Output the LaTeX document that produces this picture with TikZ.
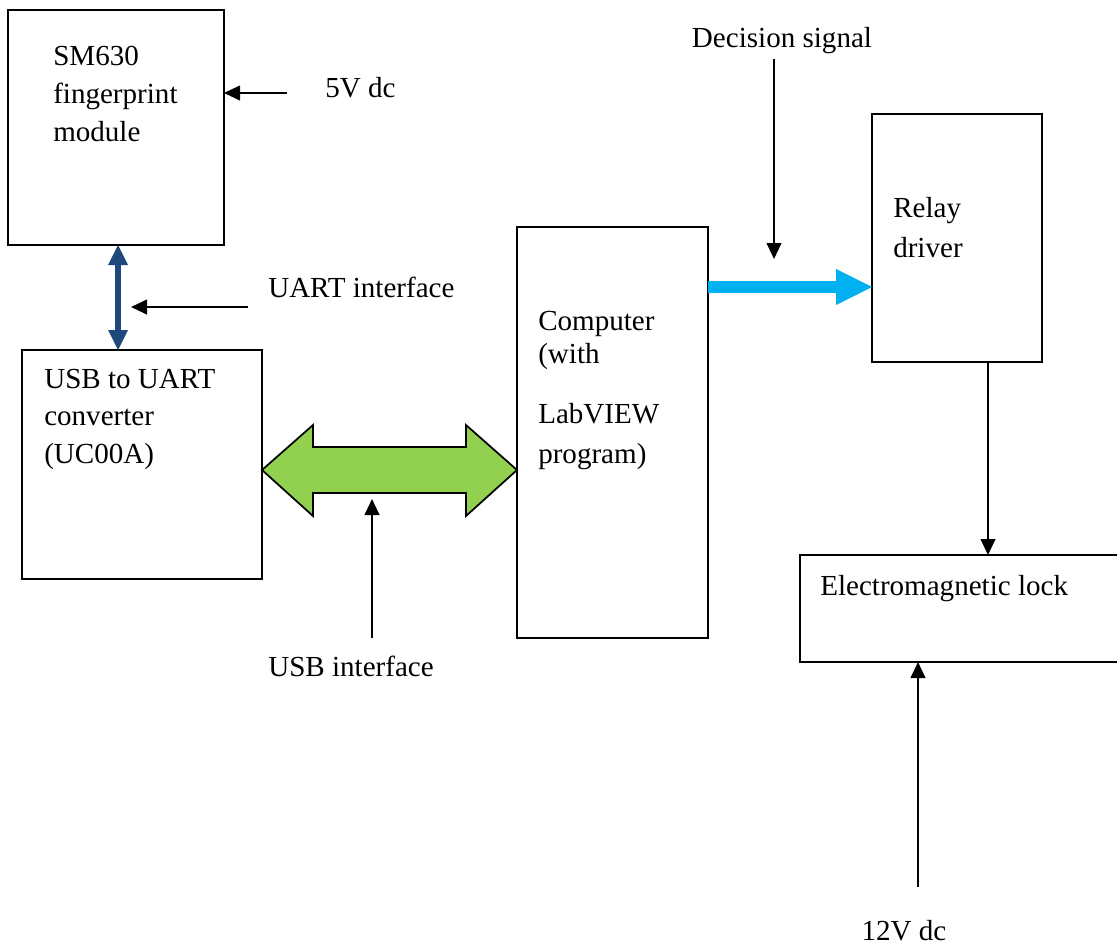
\documentclass[tikz,border=0pt]{standalone}
\usepackage{fontspec}
\setmainfont{Liberation Serif}
\usetikzlibrary{arrows.meta,fit}
\definecolor{darkblue}{RGB}{31,73,125}
\definecolor{lightgreen}{RGB}{146,208,80}
\definecolor{cyanblue}{RGB}{0,176,240}
\begin{document}
\begin{tikzpicture}[x=0.75pt,y=-0.75pt,
  box/.style={draw,line width=1.3pt,inner sep=0pt,outer sep=0pt,rectangle},
  lbl/.style={anchor=base west,inner sep=0pt,font=\fontsize{21.8}{26}\selectfont},
  clbl/.style={anchor=base,inner sep=0pt,font=\fontsize{21.8}{26}\selectfont},
  arr/.style={line width=1.5pt,-{Triangle[length=12pt,width=11pt]}}]
\useasboundingbox[fill=white] (0,0) rectangle (1117,945);

% boxes
\node[box,fit={(8,10) (224,245)}] (sm) {};
\node[box,fit={(22,350) (262,579)}] (usb) {};
\node[box,fit={(517,227) (708,638)}] (cmp) {};
\node[box,fit={(872,114) (1042,362)}] (rly) {};
\node[box,fit={(800,555) (1125,662)}] (lock) {};

% texts
\node[lbl] (t1) at (53,66) {SM630};
\node[lbl] (t2) at (53,104) {fingerprint};
\node[lbl] (t3) at (53,142) {module};
\node[lbl] (t4) at (325,98) {5V dc};
\node[lbl] (t5) at (268,297) {UART interface};
\node[lbl] (t6) at (44,388) {USB to UART};
\node[lbl] (t7) at (44,425) {converter};
\node[lbl] (t8) at (44,463) {(UC00A)};
\node[lbl] (t9) at (538,330) {Computer};
\node[lbl] (t10) at (538,363) {(with};
\node[lbl] (t11) at (538,423) {LabVIEW};
\node[lbl] (t12) at (538,463) {program)};
\node[lbl] (t13) at (893,218) {Relay};
\node[lbl] (t14) at (893,257) {driver};
\node[lbl] (t15) at (820,595) {Electromagnetic lock};
\node[clbl] (t16) at (782,48) {Decision signal};
\node[clbl] (t17) at (351,676) {USB interface};
\node[clbl] (t18) at (904,940) {12V dc};

% free ends
\coordinate (p5v) at (287,93);
\coordinate (puart) at (248,307);
\coordinate (puartend) at (131,307);
\coordinate (pusb) at (372,638);
\coordinate (pusbend) at (372,499);
\coordinate (pdec) at (774,59);
\coordinate (pdecend) at (774,259);
\coordinate (p12) at (918,887);

% black arrows
\draw[arr] (p5v) -- (p5v -| sm.east);
\draw[arr] (puart) -- (puartend);
\draw[arr] (pusb) -- (pusbend);
\draw[arr] (pdec) -- (pdecend);
\draw[arr] (rly.south -| 988,0) -- (lock.north -| 988,0);
\draw[arr] (p12) -- (p12 |- lock.south);

% blue double arrow
\draw[darkblue,line width=5pt,
  {Triangle[line width=0pt,length=15pt,width=15pt]}-{Triangle[line width=0pt,length=15pt,width=15pt]}]
  (sm.south -| 118,0) -- (usb.north -| 118,0);

% cyan arrow
\draw[cyanblue,line width=9.5pt,-{Triangle[line width=0pt,length=27pt,width=27pt]}]
  (cmp.east |- 0,287) -- (rly.west |- 0,287);

% green double arrow
\filldraw[fill=lightgreen,draw=black,line width=1.3pt,line join=miter]
  (usb.east |- 0,470) -- (313,425) -- (313,447) -- (466,447) -- (466,425)
  -- (cmp.west |- 0,470) -- (466,516) -- (466,493) -- (313,493) -- (313,516) -- cycle;
\end{tikzpicture}
\end{document}
